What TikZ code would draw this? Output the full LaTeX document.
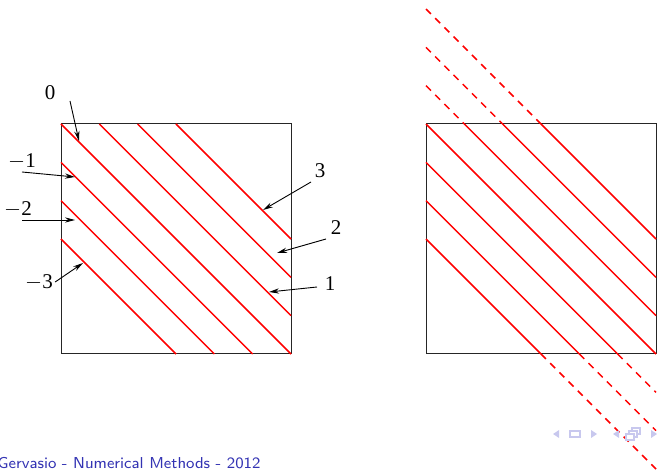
\documentclass[tikz,border=0pt]{standalone}
\usepackage{fontspec}
\newfontfamily\labfont{Liberation Serif}
\usetikzlibrary{arrows.meta}
\usepackage{xcolor}
\definecolor{beamerblue}{RGB}{51,51,179}
\definecolor{navgrey}{RGB}{200,200,238}

\begin{document}
\begin{tikzpicture}[
        x=0.5pt, y=-0.5pt,
        box/.style={draw=black!85, line width=0.5pt},
        diag/.style={draw=red, line width=0.75pt},
        ext/.style={draw=red, line width=0.75pt, dash pattern=on 3.5pt off 3pt},
        lbl/.style={font=\labfont\fontsize{10.5}{12}\selectfont, inner sep=1pt},
        arrow/.style={-{Stealth[length=5pt, width=2.6pt]}, line width=0.45pt},
        nav/.style={fill=navgrey, draw=none},
        navbox/.style={draw=navgrey, line width=0.6pt, fill=white},
      ]
      \useasboundingbox (0,0) rectangle (657,474);

      \def\h{38.333}

      % Left square: the seven diagonals
      \draw[box] (61,124) rectangle (291,354);
      \foreach \k in {0,1,2,3} {
        \draw[diag] (61+\k*\h,124) -- (291,354-\k*\h);
      }
      \foreach \k in {1,2,3} {
        \draw[diag] (61,124+\k*\h) -- (291-\k*\h,354);
      }

      % Right square: diagonals with wrapped parts
      \draw[box] (426,124) rectangle (656,354);
      \foreach \k in {0,1,2,3} {
        \draw[diag] (426+\k*\h,124) -- (656,354-\k*\h);
      }
      \foreach \k in {1,2,3} {
        \draw[diag] (426,124+\k*\h) -- (656-\k*\h,354);
        \draw[ext] (426,124-\k*\h) -- (426+\k*\h,124);
        \draw[ext] (656-\k*\h,354) -- (656,354+\k*\h);
      }

      % Labels
      \node[lbl] (l0) at (50,93) {0};
      \node[lbl] (lm1) at (22,161) {$-$1};
      \node[lbl] (lm2) at (18,209) {$-$2};
      \node[lbl] (lm3) at (39,282) {$-$3};
      \node[lbl] (l3) at (320,171) {3};
      \node[lbl] (l2) at (336,228) {2};
      \node[lbl] (l1) at (330,284) {1};

      % Arrow tips on the diagonals
      \coordinate (t0) at (79,141);
      \coordinate (tm1) at (75,177);
      \coordinate (tm2) at (75,220);
      \coordinate (tm3) at (83,263);
      \coordinate (t3) at (263,210);
      \coordinate (t2) at (277,253);
      \coordinate (t1) at (269,292);

      % Arrows
      \draw[arrow] (70,101) -- (t0);
      \draw[arrow] (22,172) -- (tm1);
      \draw[arrow] (22,220) -- (tm2);
      \draw[arrow] (lm3.east) -- (tm3);
      \draw[arrow] (311,182) -- (t3);
      \draw[arrow] (326,239) -- (t2);
      \draw[arrow] (317,287) -- (t1);

      % Footline
      \node[anchor=west, text=beamerblue, font=\sffamily\fontsize{7.9}{9}\selectfont,
        inner sep=0pt] (foot) at (-3,463) {Gervasio - Numerical Methods - 2012};

      % Navigation symbols
      \fill[nav] (553,434) -- (559,430) -- (559,438) -- cycle;
      \draw[navbox] (570,431) rectangle (580,437);
      \fill[nav] (597,434) -- (591,430) -- (591,438) -- cycle;
      \fill[nav] (613,434) -- (619,430) -- (619,438) -- cycle;
      \draw[navbox] (632,428) rectangle (640,434);
      \draw[navbox] (629,431) rectangle (637,437);
      \draw[navbox] (626,434) rectangle (634,440);
      \fill[nav] (657,434) -- (651,430) -- (651,438) -- cycle;

      \end{tikzpicture}
\end{document}
